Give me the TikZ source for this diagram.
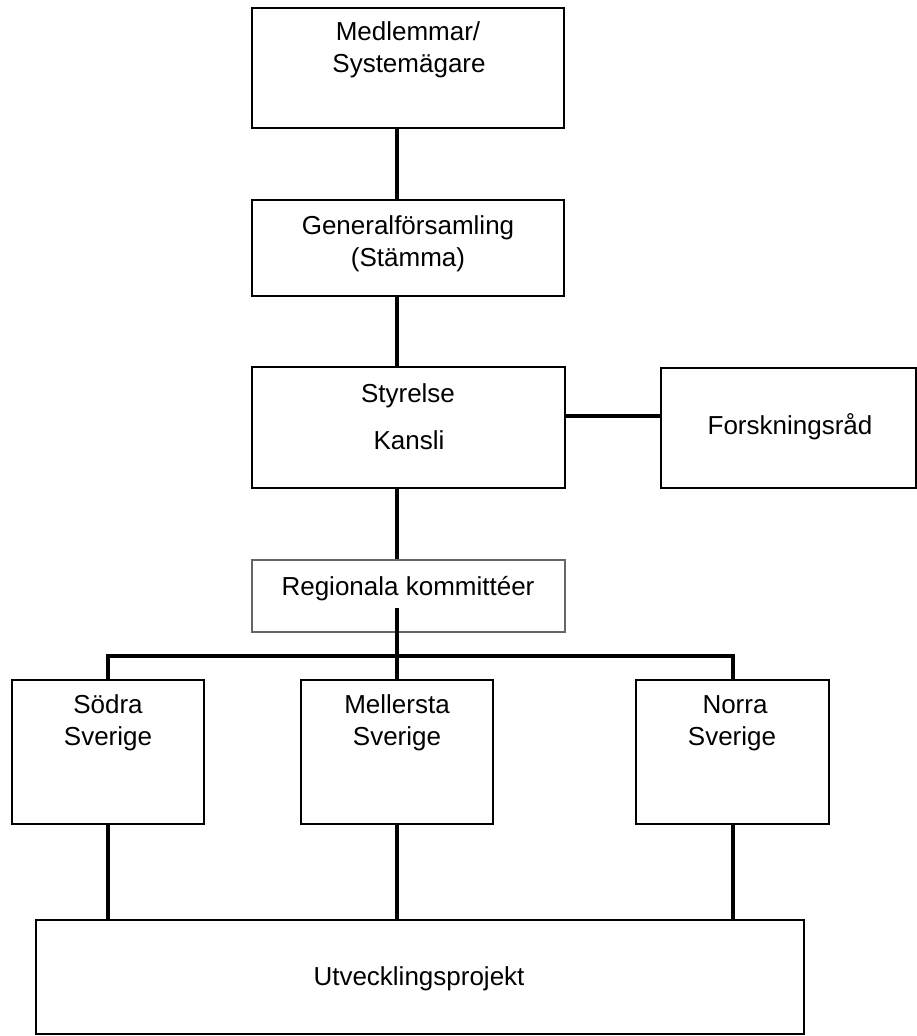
\documentclass[tikz,border=0pt]{standalone}
\usepackage{fontspec}
\setmainfont{Liberation Sans}
\usetikzlibrary{fit}
\tikzset{
  box/.style={draw=black, line width=1.5pt, inner sep=0pt, fill=white},
  thinbox/.style={draw=black, line width=1.1pt, inner sep=0pt, fill=white},
  graybox/.style={draw=black!60, line width=1.1pt, inner sep=0pt, fill=white},
  txt/.style={anchor=base, inner sep=0pt, font=\fontsize{19.5pt}{24pt}\selectfont},
  link/.style={draw=black, line width=2.6pt},
}
\begin{document}
\begin{tikzpicture}[x=0.75pt, y=-0.75pt]
\useasboundingbox (0,0) rectangle (917,1036);
% boxes
\node[box, fit={(252,8) (564,128)}] (med) {};
\node[box, fit={(252,200) (564,296)}] (gen) {};
\node[box, fit={(252,367) (565,488)}] (sty) {};
\node[box, fit={(661,368) (916,488)}] (fors) {};
\node[graybox, fit={(252,560) (565,632)}] (reg) {};
\node[box, fit={(12,680) (204,824)}] (sod) {};
\node[box, fit={(301,680) (493,824)}] (mel) {};
\node[box, fit={(636,680) (829,824)}] (nor) {};
\node[thinbox, fit={(36,920) (804,1034)}] (utv) {};
% spine and hub
\coordinate (spine) at (397,0);
\coordinate (hub) at (397,656);
\coordinate (regin) at (397,608);
% connectors
\draw[link] (med.south -| spine) -- (gen.north -| spine);
\draw[link] (gen.south -| spine) -- (sty.north -| spine);
\draw[link] (sty.south -| spine) -- (reg.north -| spine);
\draw[link] (sty.east |- 0,416) -- (fors.west |- 0,416);
\draw[link] (regin) -- (mel.north -| spine);
\draw[link] (sod.north) |- (hub) -| (nor.north -| 733,0);
\draw[link] (sod.south) -- (utv.north -| sod.south);
\draw[link] (mel.south -| spine) -- (utv.north -| spine);
\draw[link] (nor.south -| 733,0) -- (utv.north -| 733,0);
% texts
\node[txt] (t1) at (408,40) {Medlemmar/};
\node[txt] (t2) at (409,72) {Systemägare};
\node[txt] (t3) at (408,234) {Generalförsamling};
\node[txt] (t4) at (408,266) {(Stämma)};
\node[txt] (t5) at (408,402) {Styrelse};
\node[txt] (t6) at (409,449) {Kansli};
\node[txt] (t7) at (790,434) {Forskningsråd};
\node[txt] (t8) at (408,595) {Regionala kommittéer};
\node[txt] (t9) at (108,713) {Södra};
\node[txt] (t10) at (108,745) {Sverige};
\node[txt] (t11) at (397,713) {Mellersta};
\node[txt] (t12) at (397,745) {Sverige};
\node[txt] (t13) at (735,713) {Norra};
\node[txt] (t14) at (732,745) {Sverige};
\node[txt] (t15) at (419,985) {Utvecklingsprojekt};
\end{tikzpicture}
\end{document}
